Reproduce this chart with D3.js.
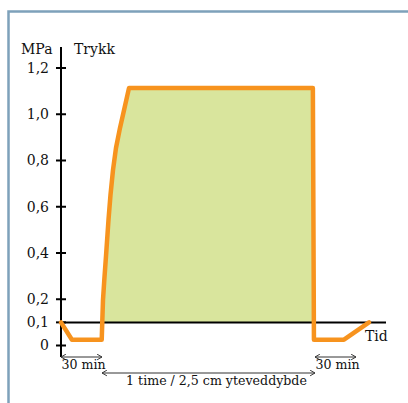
<!DOCTYPE html>
<html>
<head>
<meta charset="utf-8">
<script src="https://cdn.jsdelivr.net/npm/d3@7"></script>
<style>
  body { margin: 0; background: #fff; }
  text { font-family: "DejaVu Serif", serif; fill: #111; }
</style>
</head>
<body>
<svg width="408" height="403"></svg>
<script>
const svg = d3.select('svg');

// pressure axis
const pressureTicks = [0, 0.1, 0.2, 0.4, 0.6, 0.8, 1.0, 1.2];
const tickLabels = ['0', '0,1', '0,2', '0,4', '0,6', '0,8', '1,0', '1,2'];

// pressure curve (time in minutes, pressure in MPa)
const curveTime = [0, 8, 29.8, 30.08, 30.28, 30.65, 31.13, 31.83, 32.39, 33.1, 33.94, 35.07, 36.34, 37.6,
  89.4, 89.7, 111.2, 129.5];
const curvePressure = [0.1, 0.025, 0.025, 0.102, 0.197, 0.284, 0.387, 0.543, 0.651, 0.759, 0.854, 0.941, 1.027, 1.113,
  1.113, 0.025, 0.025, 0.1];

// phases
const phaseStart = [0, 30, 90];
const phaseEnd = [30, 90, 120];
const phaseLabels = ['30 min', '1 time / 2,5 cm yteveddybde', '30 min'];

// time axis is not to scale: the hour phase is stretched
const x = d3.scaleLinear()
  .domain([0, 30, 90, 120])
  .range([61, 102, 315, 356]);

const y = d3.scaleLinear()
  .domain([0, 1.2])
  .range([345.5, 68]);

const curve = curveTime.map((t, i) => ({t, p: curvePressure[i]}));

// frame
svg.append('path')
  .attr('d', 'M8.5,403V11.5H408')
  .attr('fill', 'none')
  .attr('stroke', '#7ea1ba')
  .attr('stroke-width', 2.5);

// filled area under the pressure plateau
const fillPts = curve.filter(d => d.t >= 30 && d.t <= 89.4);
svg.append('path')
  .datum(fillPts)
  .attr('fill', '#d9e59d')
  .attr('d', d3.area()
    .x(d => x(d.t))
    .y0(y(0.1))
    .y1(d => y(d.p)));

// horizontal time axis at 0,1 MPa
svg.append('line')
  .attr('x1', x(0)).attr('x2', 386)
  .attr('y1', y(0.1)).attr('y2', y(0.1))
  .attr('stroke', '#000').attr('stroke-width', 2);

// vertical axis
svg.append('line')
  .attr('x1', x(0)).attr('x2', x(0))
  .attr('y1', 47).attr('y2', 357)
  .attr('stroke', '#000').attr('stroke-width', 2);

const ticks = svg.append('g').selectAll('g')
  .data(pressureTicks)
  .enter().append('g')
    .attr('transform', d => `translate(${x(0)},${y(d)})`);

ticks.append('line')
  .attr('x1', -5).attr('x2', 5)
  .attr('stroke', '#000').attr('stroke-width', 2);

ticks.append('text')
  .attr('x', -12)
  .attr('dy', '0.35em')
  .attr('text-anchor', 'end')
  .attr('font-size', 14)
  .text((d, i) => tickLabels[i]);

svg.append('text')
  .attr('x', 21).attr('y', 54)
  .attr('font-size', 14)
  .text('MPa');

svg.append('text')
  .attr('x', 74).attr('y', 54)
  .attr('font-size', 14)
  .text('Trykk');

svg.append('text')
  .attr('x', 365).attr('y', 341)
  .attr('font-size', 14)
  .text('Tid');

// pressure curve
svg.append('path')
  .datum(curve)
  .attr('fill', 'none')
  .attr('stroke', '#f7931e')
  .attr('stroke-width', 4.5)
  .attr('stroke-linejoin', 'round')
  .attr('stroke-linecap', 'round')
  .attr('d', d3.line()
    .x(d => x(d.t))
    .y(d => y(d.p)));

// double arrows for the phases
const defs = svg.append('defs');
['start', 'end'].forEach(k => {
  defs.append('marker')
    .attr('id', 'arr-' + k)
    .attr('viewBox', '0 0 10 10')
    .attr('refX', k === 'end' ? 9 : 1)
    .attr('refY', 5)
    .attr('markerWidth', 7)
    .attr('markerHeight', 7)
    .attr('markerUnits', 'userSpaceOnUse')
    .attr('orient', 'auto')
    .append('path')
      .attr('d', k === 'end' ? 'M2,1L9,5L2,9' : 'M8,1L1,5L8,9')
      .attr('fill', 'none')
      .attr('stroke', '#333')
      .attr('stroke-width', 1.4);
});

const arrowY = [357, 373, 357];
const labelY = [369, 385, 369];

const phases = svg.append('g').selectAll('g')
  .data(phaseLabels)
  .enter().append('g');

phases.append('line')
  .attr('x1', (d, i) => x(phaseStart[i]))
  .attr('x2', (d, i) => x(phaseEnd[i]))
  .attr('y1', (d, i) => arrowY[i])
  .attr('y2', (d, i) => arrowY[i])
  .attr('stroke', '#333')
  .attr('stroke-width', 1)
  .attr('marker-start', 'url(#arr-start)')
  .attr('marker-end', 'url(#arr-end)');

phases.append('text')
  .attr('x', (d, i) => (x(phaseStart[i]) + x(phaseEnd[i])) / 2 + (i === 1 ? 8 : 2))
  .attr('y', (d, i) => labelY[i])
  .attr('text-anchor', 'middle')
  .attr('font-size', 12.6)
  .text(d => d);
</script>
</body>
</html>
